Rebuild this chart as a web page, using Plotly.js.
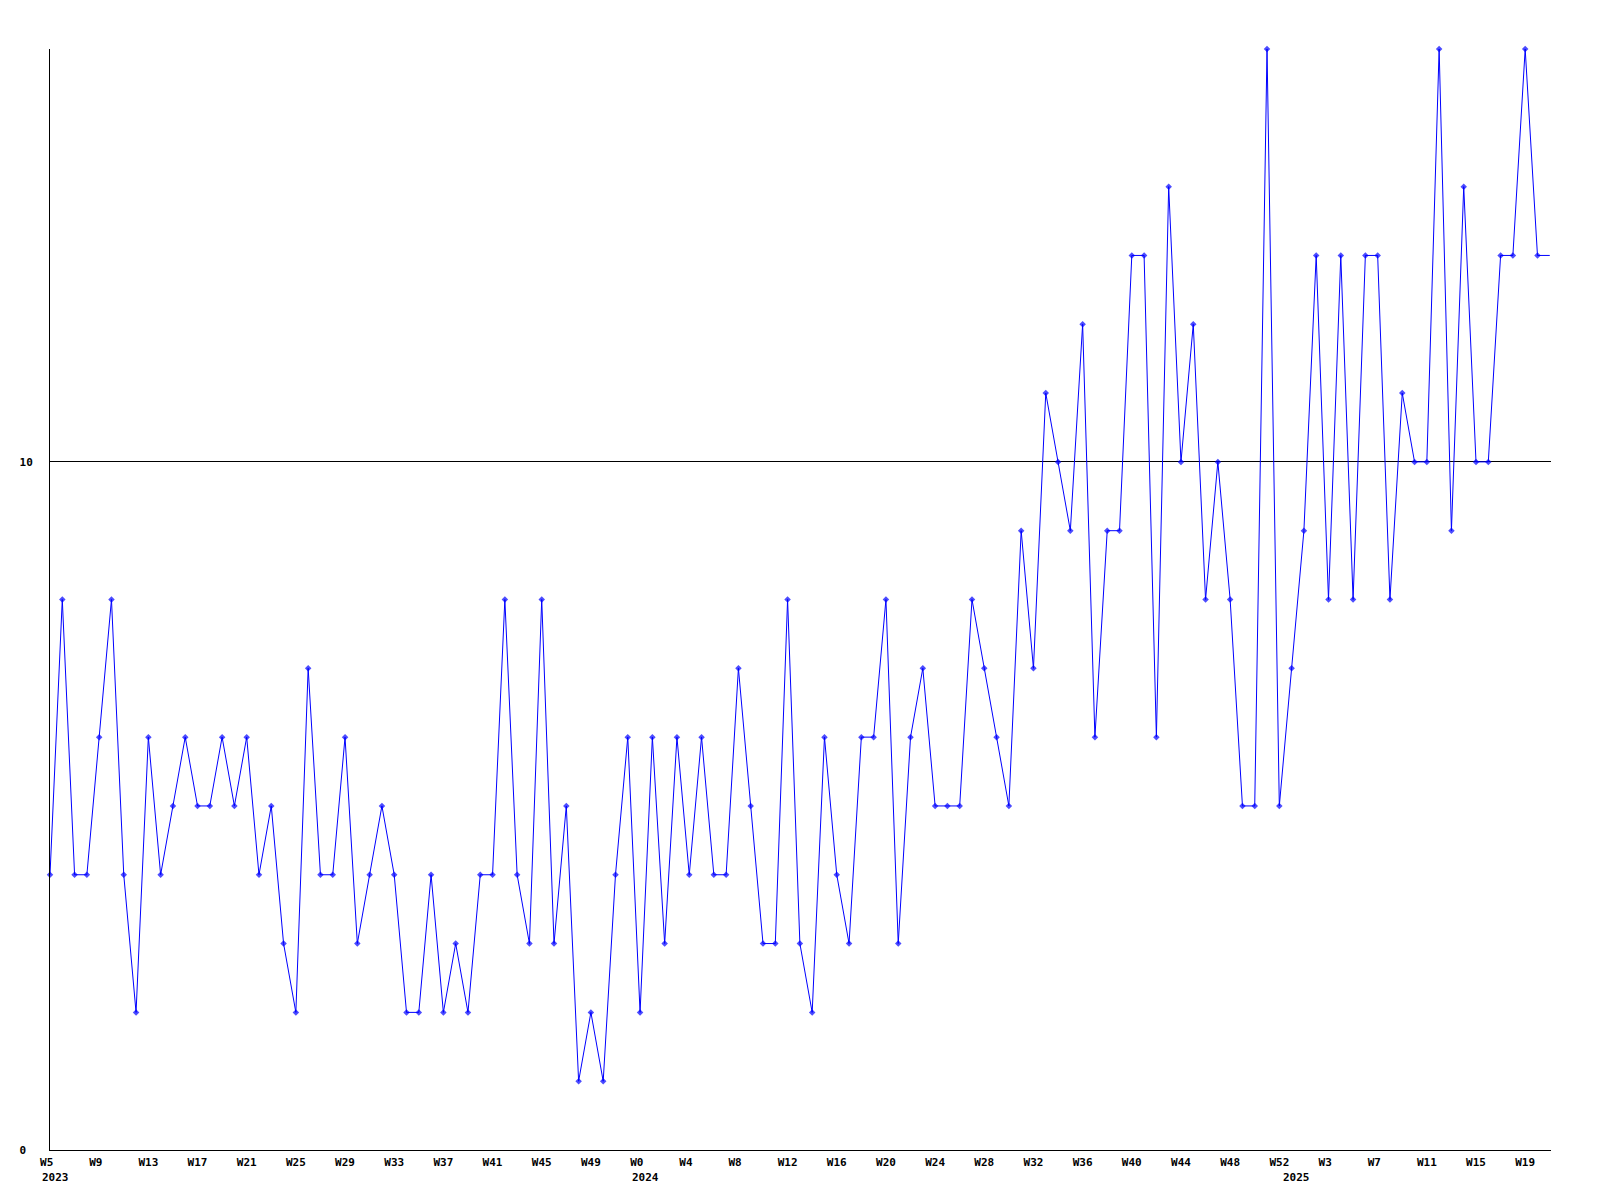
<!DOCTYPE html>
<html>
<head>
<meta charset="utf-8">
<script src="https://cdn.plot.ly/plotly-3.0.1.min.js"></script>
<style>html,body{margin:0;padding:0;background:#fff;}#chart{width:1600px;height:1200px;}</style>
</head>
<body>
<div id="chart"></div>
<script>
// Week categories: [year, first week, last week]
var yearSpans = [[2023, 5, 52], [2024, 0, 52], [2025, 0, 22]];
// Weekly counts, in order from W5 2023
var values2023 = [4,8,4,4,6,8,4,2,6,4,5,6,5,5,6,5,6,4,5,3,2,7,4,4,6,3,4,5,4,2,2,4,2,3,2,4,4,8,4,3,8,3,5,1,2,1,4,6];
var values2024 = [2,6,3,6,4,6,4,4,7,5,3,3,8,3,2,6,4,3,6,6,8,3,6,7,5,5,5,8,7,6,5,9,7,11,10,9,12,6,9,9,13,13,6,14,10,12,8,10,8,5,5,16,5];
var values2025 = [7,9,13,8,13,8,13,13,8,11,10,10,16,9,14,10,10,13,13,16,13,13];
// Axis tick labels
var yTickVals = [0, 10];
var yTickText = ['0\u00A0', '10'];
var yearLabels = ['2023', '2024', '2025'];

var categories = [];
var weekNames = [];
var yearStart = [];
yearSpans.forEach(function (s) {
  yearStart.push(s[0] + '-W' + s[1]);
  for (var w = s[1]; w <= s[2]; w++) {
    categories.push(s[0] + '-W' + w);
    weekNames.push('W' + w);
  }
});
var values = values2023.concat(values2024, values2025);

var tickVals = [], tickText = [];
for (var i = 0; i < categories.length; i += 4) {
  tickVals.push(categories[i]);
  var t = weekNames[i];
  while (t.length < 3) t += '\u00A0';
  tickText.push(t);
}
var sizes = values.map(function (v, i) { return i === values.length - 1 ? 0 : 5; });

var font = {family: 'DejaVu Sans Mono, monospace', size: 11, color: '#000', weight: 'bold'};

var trace = {
  type: 'scatter', mode: 'lines+markers',
  x: categories, y: values,
  cliponaxis: false,
  line: {color: '#0000ff', width: 1},
  marker: {color: '#0000ff', symbol: 'diamond', size: sizes, line: {width: 0}},
  hoverinfo: 'x+y'
};

var annotations = yearLabels.map(function (y, k) {
  return {
    x: yearStart[k], xref: 'x', y: 0, yref: 'paper',
    text: y, showarrow: false, xanchor: 'left', yanchor: 'middle',
    xshift: -10.5, yshift: -27, font: font
  };
});

var layout = {
  width: 1600, height: 1200,
  margin: {l: 50, r: 49, t: 49, b: 50},
  paper_bgcolor: '#fff', plot_bgcolor: '#fff',
  showlegend: false,
  font: font,
  xaxis: {
    type: 'category', range: [0, 122.1],
    tickmode: 'array', tickvals: tickVals, ticktext: tickText,
    ticks: '', showgrid: false, zeroline: false,
    showline: true, linecolor: '#000', linewidth: 1,
    tickfont: font, tickangle: 0, ticklabelstandoff: 2
  },
  yaxis: {
    range: [0, 16], tickmode: 'array', tickvals: yTickVals, ticktext: yTickText,
    ticks: '', showgrid: true, gridcolor: '#000', gridwidth: 1,
    zeroline: false, showline: true, linecolor: '#000', linewidth: 1,
    tickfont: font, ticklabelstandoff: 14
  },
  annotations: annotations
};

Plotly.newPlot('chart', [trace], layout, {staticPlot: true, displayModeBar: false});
</script>
</body>
</html>
